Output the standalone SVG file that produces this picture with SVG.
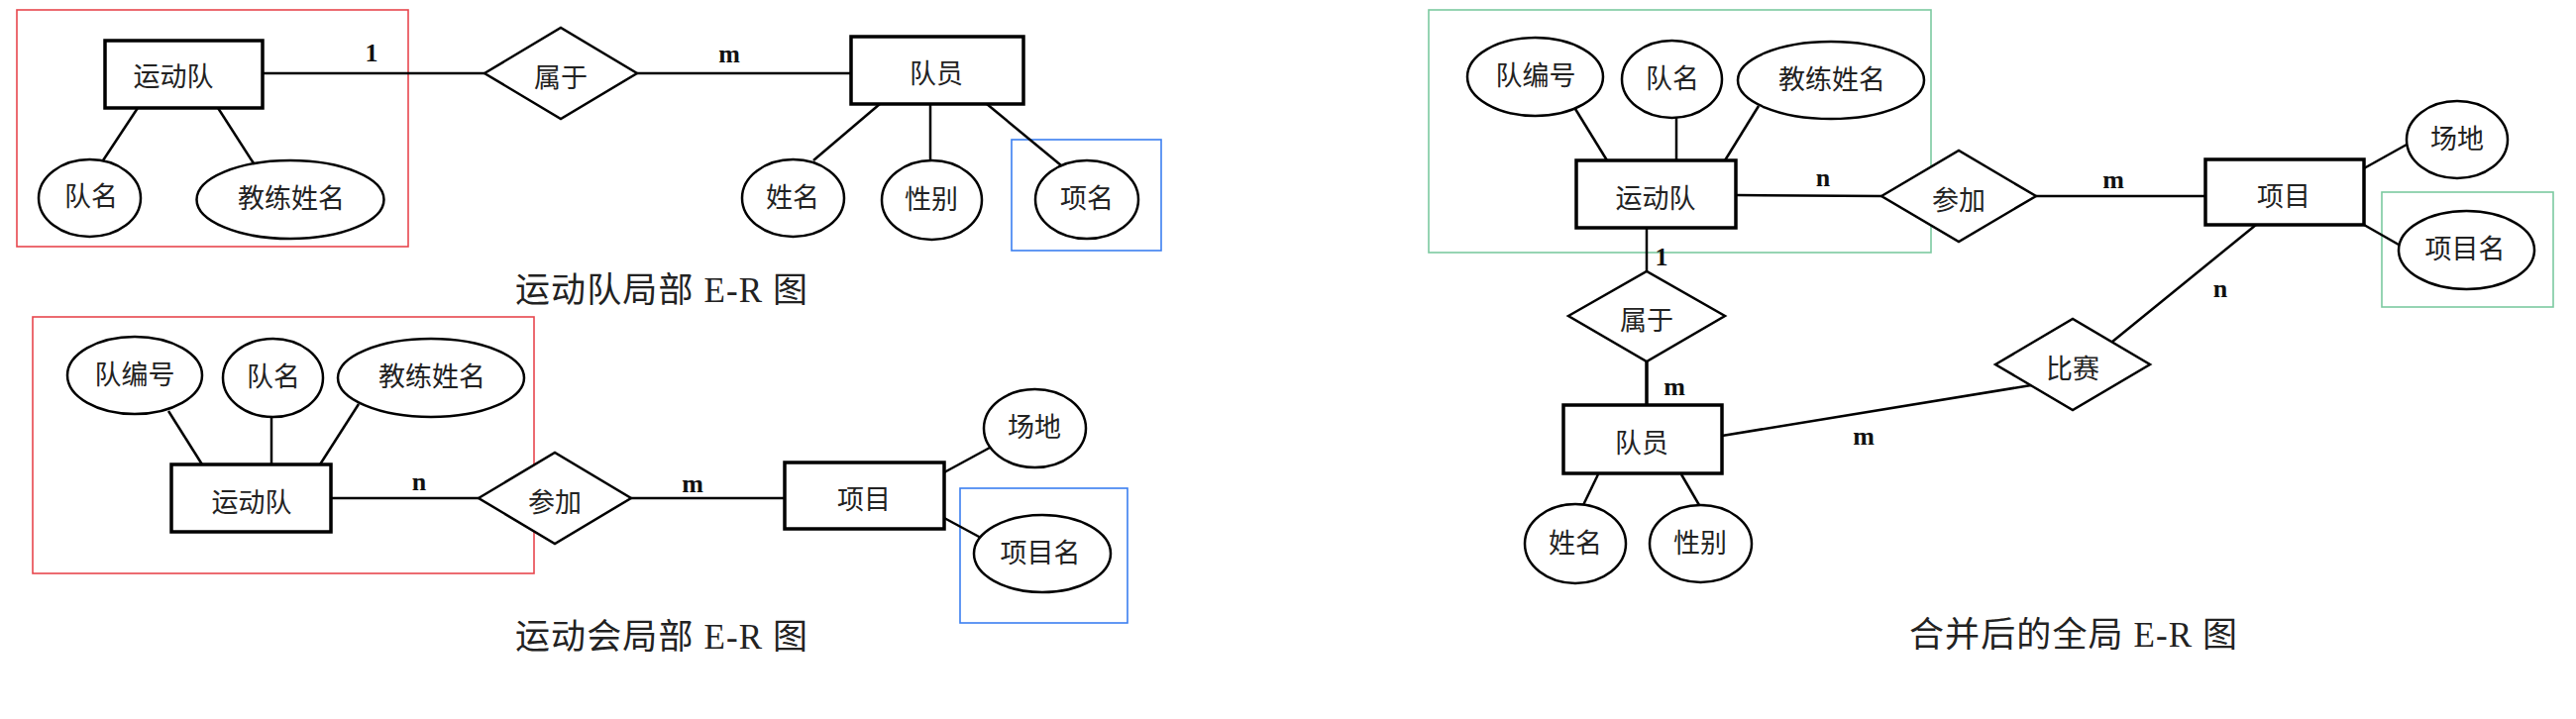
<svg xmlns="http://www.w3.org/2000/svg" width="2600" height="726" viewBox="0 0 2600 726">
<style>
.ent{fill:#fff;stroke:#000;stroke-width:3.5}
.attr{fill:#fff;stroke:#000;stroke-width:2.5}
.rel{fill:#fff;stroke:#000;stroke-width:2.5;stroke-linejoin:miter}
.ln{stroke:#000;stroke-width:2.5;fill:none}
.thick{stroke-width:3.5}
.t{font-family:"Noto Sans CJK SC","Noto Sans",sans-serif;font-size:27px;fill:#222;text-anchor:middle;dominant-baseline:central}
.lbl{font-family:"Liberation Serif",serif;font-size:26px;font-weight:bold;fill:#111;text-anchor:middle}
.title{font-family:"Liberation Serif","Noto Sans CJK SC",serif;font-size:35px;fill:#222}
.hl{fill:none;stroke-width:1.6}
.red{stroke:#e8474e}
.blue{stroke:#3b7ff0}
.green{stroke:#7ccaa0}
</style>
<rect width="2600" height="726" fill="#fff"/>
<g id="highlights">
<rect class="hl red" x="17" y="10" width="395" height="239"/>
<rect class="hl blue" x="1021" y="141" width="151" height="112"/>
<rect class="hl red" x="33" y="320" width="506" height="259"/>
<rect class="hl blue" x="969" y="493" width="169" height="136"/>
<rect class="hl green" x="1442" y="10" width="507" height="245"/>
<rect class="hl green" x="2404" y="194" width="173" height="116"/>
</g>
<g id="connectors">
<line class="ln" x1="265" y1="74" x2="489" y2="74"/>
<line class="ln" x1="643" y1="74" x2="859" y2="74"/>
<line class="ln" x1="139" y1="109" x2="104" y2="162"/>
<line class="ln" x1="220" y1="109" x2="256" y2="165"/>
<line class="ln" x1="888" y1="105" x2="821" y2="162"/>
<line class="ln" x1="939" y1="105" x2="939" y2="162"/>
<line class="ln" x1="996" y1="105" x2="1071" y2="167"/>
<line class="ln" x1="170" y1="415" x2="204" y2="469"/>
<line class="ln" x1="274" y1="421" x2="274" y2="469"/>
<line class="ln" x1="362" y1="408" x2="323" y2="469"/>
<line class="ln" x1="334" y1="503" x2="483" y2="503"/>
<line class="ln" x1="637" y1="503" x2="792" y2="503"/>
<line class="ln" x1="953" y1="477" x2="999" y2="452"/>
<line class="ln" x1="953" y1="523" x2="990" y2="543"/>
<line class="ln" x1="1590" y1="110" x2="1622" y2="162"/>
<line class="ln" x1="1692" y1="119" x2="1692" y2="162"/>
<line class="ln" x1="1775" y1="107" x2="1741" y2="162"/>
<line class="ln" x1="1752" y1="197" x2="1899" y2="198"/>
<line class="ln" x1="2055" y1="198" x2="2226" y2="198"/>
<line class="ln" x1="2386" y1="170" x2="2429" y2="146"/>
<line class="ln" x1="2386" y1="227" x2="2421" y2="247"/>
<line class="ln" x1="1662" y1="230" x2="1662" y2="274"/>
<line class="ln thick" x1="1662" y1="365" x2="1662" y2="409"/>
<line class="ln" x1="2277" y1="227" x2="2132" y2="345"/>
<line class="ln" x1="1738" y1="440" x2="2050" y2="389"/>
<line class="ln" x1="1613" y1="479" x2="1598" y2="510"/>
<line class="ln" x1="1697" y1="479" x2="1715" y2="510"/>
</g>
<g id="cardinalities">
<text class="lbl" x="375" y="62">1</text>
<text class="lbl" x="736" y="63">m</text>
<text class="lbl" x="423" y="495">n</text>
<text class="lbl" x="699" y="497">m</text>
<text class="lbl" x="1840" y="188">n</text>
<text class="lbl" x="2133" y="190">m</text>
<text class="lbl" x="1677" y="268">1</text>
<text class="lbl" x="1690" y="399">m</text>
<text class="lbl" x="1881" y="449">m</text>
<text class="lbl" x="2241" y="300">n</text>
</g>
<!-- diagram 1 -->
<g id="d1-team"><rect class="ent" x="106" y="41" width="159" height="68"/><text class="t" x="175" y="75">运动队</text></g>
<g id="d1-belong"><polygon class="rel" points="489,74 566,28 643,74 566,120"/><text class="t" x="566" y="76">属于</text></g>
<g id="d1-member"><rect class="ent" x="859" y="37" width="174" height="68"/><text class="t" x="945" y="72">队员</text></g>
<g id="d1-teamname"><ellipse class="attr" cx="90.5" cy="200" rx="51.5" ry="39"/><text class="t" x="92" y="196">队名</text></g>
<g id="d1-coach"><ellipse class="attr" cx="293" cy="201.5" rx="94.5" ry="39.5"/><text class="t" x="294" y="198">教练姓名</text></g>
<g id="d1-name"><ellipse class="attr" cx="800.5" cy="200" rx="51.5" ry="39"/><text class="t" x="800" y="197">姓名</text></g>
<g id="d1-gender"><ellipse class="attr" cx="940.5" cy="202" rx="50.5" ry="40"/><text class="t" x="940" y="199">性别</text></g>
<g id="d1-event"><ellipse class="attr" cx="1097" cy="201.5" rx="52" ry="39.5"/><text class="t" x="1097" y="198">项名</text></g>
<text class="title" x="520" y="305" textLength="295" lengthAdjust="spacing">运动队局部 E-R 图</text>
<!-- diagram 2 -->
<g id="d2-teamno"><ellipse class="attr" cx="136" cy="379" rx="68" ry="39"/><text class="t" x="136" y="376">队编号</text></g>
<g id="d2-teamname"><ellipse class="attr" cx="275.5" cy="381.5" rx="50.5" ry="39.5"/><text class="t" x="276" y="378">队名</text></g>
<g id="d2-coach"><ellipse class="attr" cx="435" cy="381.5" rx="94" ry="39.5"/><text class="t" x="436" y="378">教练姓名</text></g>
<g id="d2-team"><rect class="ent" x="173" y="469" width="161" height="68"/><text class="t" x="254" y="505">运动队</text></g>
<g id="d2-join"><polygon class="rel" points="483,503 560,457 637,503 560,549"/><text class="t" x="560" y="505">参加</text></g>
<g id="d2-item"><rect class="ent" x="792" y="467" width="161" height="67"/><text class="t" x="872" y="502">项目</text></g>
<g id="d2-venue"><ellipse class="attr" cx="1044.5" cy="432.5" rx="51.5" ry="39.5"/><text class="t" x="1044" y="429">场地</text></g>
<g id="d2-itemname"><ellipse class="attr" cx="1052" cy="559" rx="69" ry="39"/><text class="t" x="1050" y="556">项目名</text></g>
<text class="title" x="520" y="655" textLength="295" lengthAdjust="spacing">运动会局部 E-R 图</text>
<!-- global diagram -->
<g id="g-teamno"><ellipse class="attr" cx="1549.5" cy="77.5" rx="68.5" ry="39.5"/><text class="t" x="1550" y="74">队编号</text></g>
<g id="g-teamname"><ellipse class="attr" cx="1687.5" cy="80" rx="50.5" ry="39"/><text class="t" x="1688" y="77">队名</text></g>
<g id="g-coach"><ellipse class="attr" cx="1848" cy="81" rx="94" ry="39"/><text class="t" x="1849" y="78">教练姓名</text></g>
<g id="g-team"><rect class="ent" x="1591" y="162" width="161" height="68"/><text class="t" x="1671" y="198">运动队</text></g>
<g id="g-join"><polygon class="rel" points="1899,198 1977,152 2055,198 1977,244"/><text class="t" x="1977" y="200">参加</text></g>
<g id="g-item"><rect class="ent" x="2226" y="161" width="160" height="66"/><text class="t" x="2305" y="196">项目</text></g>
<g id="g-venue"><ellipse class="attr" cx="2480" cy="141" rx="51" ry="39"/><text class="t" x="2480" y="138">场地</text></g>
<g id="g-itemname"><ellipse class="attr" cx="2489.5" cy="252.5" rx="68.5" ry="39.5"/><text class="t" x="2488" y="249">项目名</text></g>
<g id="g-belong"><polygon class="rel" points="1583,319 1662,274 1741,319 1662,365"/><text class="t" x="1662" y="321">属于</text></g>
<g id="g-member"><rect class="ent" x="1578" y="409" width="160" height="69"/><text class="t" x="1657" y="445">队员</text></g>
<g id="g-match"><polygon class="rel" points="2014,368 2092,322 2170,368 2092,414"/><text class="t" x="2092" y="370">比赛</text></g>
<g id="g-name"><ellipse class="attr" cx="1590" cy="549" rx="51" ry="40"/><text class="t" x="1590" y="546">姓名</text></g>
<g id="g-gender"><ellipse class="attr" cx="1716.5" cy="549" rx="51.5" ry="39"/><text class="t" x="1716" y="546">性别</text></g>
<text class="title" x="1927" y="653" font-size="33" textLength="331" lengthAdjust="spacing">合并后的全局 E-R 图</text>
</svg>
